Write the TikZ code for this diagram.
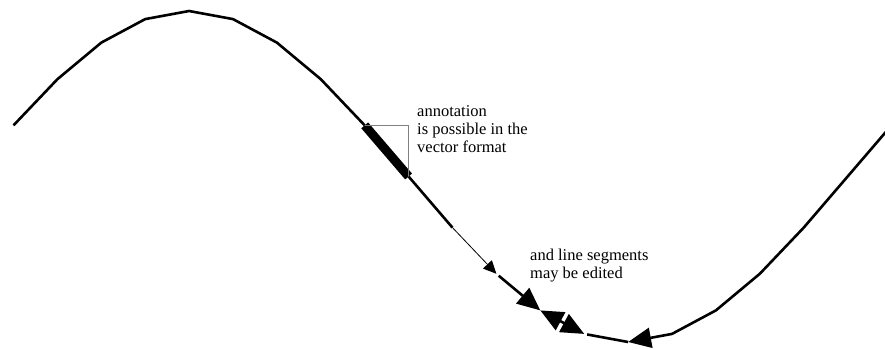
\documentclass[tikz,border=0pt]{standalone}
\usepackage{fontspec}
\setmainfont{Liberation Serif}
\usetikzlibrary{arrows.meta, positioning}

\begin{document}
\begin{tikzpicture}[
  x=1pt, y=-1pt,
  curve/.style={line width=2.6pt},
  fat/.style={line width=9pt},
  hair/.style={line width=0.8pt},
  bracket/.style={draw=black!50, line width=1pt},
  note/.style={align=left, inner sep=0pt, font=\fontsize{16.5}{18}\selectfont},
  small tip/.style={-{Triangle[length=13pt, width=12pt]}},
  big/.tip={Triangle[length=23pt, width=20pt]}
]
  \useasboundingbox (0,0) rectangle (885,349);
  \foreach \k in {0,...,20}
    \coordinate (p\k) at ({13.5+43.9*\k}, {176.5-165.5*sin(18+18*\k)});

  \draw[curve] (p0) \foreach \k in {1,...,8} {-- (p\k)};
  \draw[fat] (p8) -- (p9);
  \draw[bracket] (p8) -| (p9);
  \draw[curve] (p9) -- (p10);
  \draw[hair, small tip] (p10) -- (p11);
  \draw[curve, -big, shorten <=3pt] (p11) -- (p12);
  \draw[curve, big-big] (p12) -- (p13);
  \draw[curve, shorten <=3pt] (p13) -- (p14);
  \draw[curve, big-] (p14) \foreach \k in {15,...,20} {-- (p\k)};

  \node[note, anchor=north west] (annot) at (417,105) {annotation\\is possible in the\\vector format};
  \node[note, anchor=north west] (edit) at (530,249) {and line segments\\may be edited};
\end{tikzpicture}
\end{document}
